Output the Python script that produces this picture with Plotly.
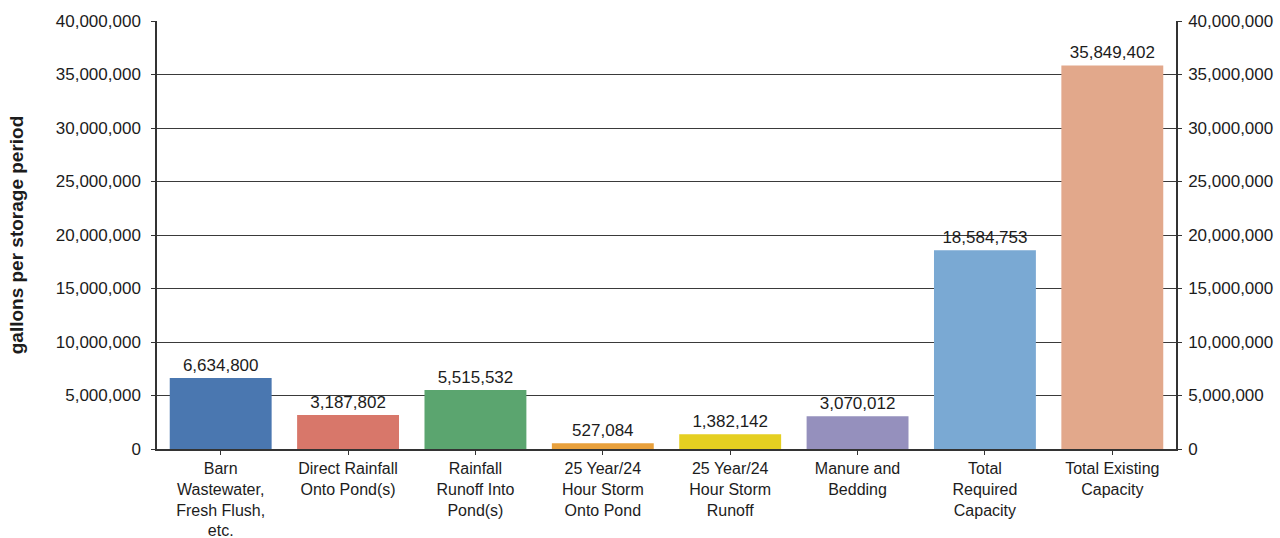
import plotly.graph_objects as go

# Storage volume components (gallons per storage period)
categories = [
    "Barn<br>Wastewater,<br>Fresh Flush,<br>etc.",
    "Direct Rainfall<br>Onto Pond(s)",
    "Rainfall<br>Runoff Into<br>Pond(s)",
    "25 Year/24<br>Hour Storm<br>Onto Pond",
    "25 Year/24<br>Hour Storm<br>Runoff",
    "Manure and<br>Bedding",
    "Total<br>Required<br>Capacity",
    "Total Existing<br>Capacity",
]
values = [6634800, 3187802, 5515532, 527084, 1382142, 3070012, 18584753, 35849402]
bar_colors = ["#4a77b0", "#d8776a", "#5ba56f", "#e8a03c", "#e5cf21",
              "#9590bd", "#7aa9d3", "#e2a88b"]

tick_vals = list(range(0, 40000001, 5000000))
tick_text = [f"{v:,}" for v in tick_vals]

font_family = "Liberation Sans, Arial, sans-serif"
ink = "#1c1c1c"
line_col = "#333333"

fig = go.Figure()
fig.add_trace(go.Bar(
    x=categories, y=values,
    marker=dict(color=bar_colors, line=dict(width=0)),
    text=[f"{v:,}" for v in values],
    textposition="outside",
    textfont=dict(size=17, color=ink, family=font_family),
    cliponaxis=False,
    hoverinfo="skip",
))
# companion trace so the right-hand value axis is drawn
fig.add_trace(go.Scatter(
    x=categories, y=values, yaxis="y2", mode="markers",
    marker=dict(opacity=0), hoverinfo="skip", showlegend=False,
))

fig.update_layout(
    width=1280, height=538,
    margin=dict(l=157, r=104, t=21, b=89, autoexpand=False),
    paper_bgcolor="white", plot_bgcolor="white",
    showlegend=False,
    bargap=0.2,
    font=dict(family=font_family, size=17, color=ink),
    xaxis=dict(
        showline=True, linecolor=line_col, linewidth=1.5,
        ticks="outside", ticklen=4, tickcolor=line_col,
        tickfont=dict(size=16, color=ink),
        showgrid=False,
    ),
    yaxis=dict(
        range=[0, 40000000], tickvals=tick_vals, ticktext=tick_text,
        showgrid=True, gridcolor="#3a3a3a", gridwidth=1.2,
        showline=True, linecolor=line_col, linewidth=1.5,
        ticks="outside", ticklen=4, tickcolor=line_col,
        ticklabelstandoff=7,
        tickfont=dict(size=17, color=ink),
        title=dict(text="<b>gallons per storage period</b>",
                   font=dict(size=19, color=ink), standoff=27),
        zeroline=False,
    ),
    yaxis2=dict(
        range=[0, 40000000], tickvals=tick_vals, ticktext=tick_text,
        overlaying="y", side="right", showgrid=False,
        showline=True, linecolor=line_col, linewidth=1.5,
        ticks="outside", ticklen=4, tickcolor=line_col,
        ticklabelstandoff=3,
        tickfont=dict(size=17, color=ink),
        zeroline=False,
    ),
)

fig.write_html("out.html")
